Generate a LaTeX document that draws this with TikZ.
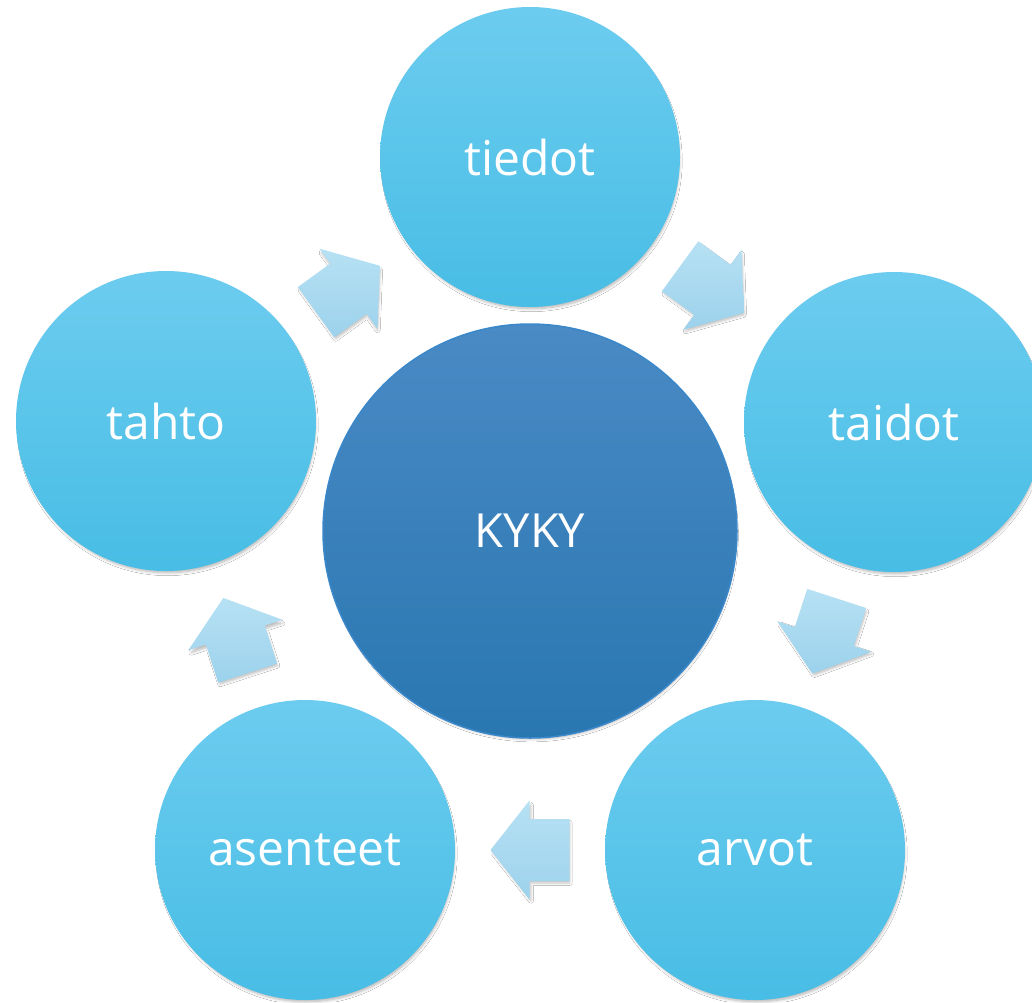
\documentclass[tikz,border=0pt]{standalone}
\usepackage{fontspec}
\setmainfont{Open Sans}
\usetikzlibrary{calc,shadows.blur}
\definecolor{outTop}{RGB}{108,204,239}
\definecolor{outBot}{RGB}{72,189,229}
\definecolor{hubTop}{RGB}{74,138,197}
\definecolor{hubBot}{RGB}{41,119,177}
\definecolor{hubLine}{RGB}{58,136,202}
\definecolor{arTop}{RGB}{183,225,244}
\definecolor{arBot}{RGB}{156,210,236}
\tikzset{
  softshadow/.style={blur shadow={shadow xshift=1.5pt, shadow yshift=-4pt, shadow scale=0.985, shadow opacity=30, shadow blur steps=6, shadow blur radius=3pt}},
  outernode/.style={circle, minimum size=300pt, inner sep=0pt, top color=outTop, bottom color=outBot, text=white, font=\fontsize{48}{58}\selectfont, softshadow},
  hubnode/.style={circle, minimum size=414pt, inner sep=0pt, top color=hubTop, bottom color=hubBot, draw=hubLine, line width=1.5pt, text=white, font=\fontsize{47}{56}\selectfont, softshadow},
  flowarrow/.style={top color=arTop, bottom color=arBot, draw=none, blur shadow={shadow xshift=1.5pt, shadow yshift=-3pt, shadow scale=0.97, shadow opacity=25, shadow blur steps=5, shadow blur radius=2.5pt}}
}
\newcommand\cyclearrow[2]{%
  \coordinate (m-#1-#2) at ($(#1.center)!0.5!(#2.center)$);
  \path[flowarrow] let \p1=($(#2.center)-(#1.center)$), \n1={atan2(\y1,\x1)} in
    ($(m-#1-#2)+(\n1:-39.5pt)+(\n1+90:31pt)$) --
    ($(m-#1-#2)+(\n1:0.5pt)+(\n1+90:31pt)$) --
    ($(m-#1-#2)+(\n1:0.5pt)+(\n1+90:49.5pt)$) --
    ($(m-#1-#2)+(\n1:39.5pt)$) --
    ($(m-#1-#2)+(\n1:0.5pt)+(\n1-90:49.5pt)$) --
    ($(m-#1-#2)+(\n1:0.5pt)+(\n1-90:31pt)$) --
    ($(m-#1-#2)+(\n1:-39.5pt)+(\n1-90:31pt)$) -- cycle;
}
\begin{document}
\begin{tikzpicture}[x=1pt,y=-1pt]
\useasboundingbox[fill=white] (0,0) rectangle (1032,1002);
\node[hubnode] (kyky) at (530,531) {KYKY};
\node[outernode] (tiedot) at (530,157) {tiedot};
\node[outernode] (taidot) at (894,422) {taidot};
\node[outernode] (arvot) at (755,850) {arvot};
\node[outernode] (asenteet) at (305,850) {asenteet};
\node[outernode] (tahto) at (166,421) {tahto};
\cyclearrow{tahto}{tiedot}
\cyclearrow{tiedot}{taidot}
\cyclearrow{taidot}{arvot}
\cyclearrow{arvot}{asenteet}
\cyclearrow{asenteet}{tahto}
\end{tikzpicture}
\end{document}
